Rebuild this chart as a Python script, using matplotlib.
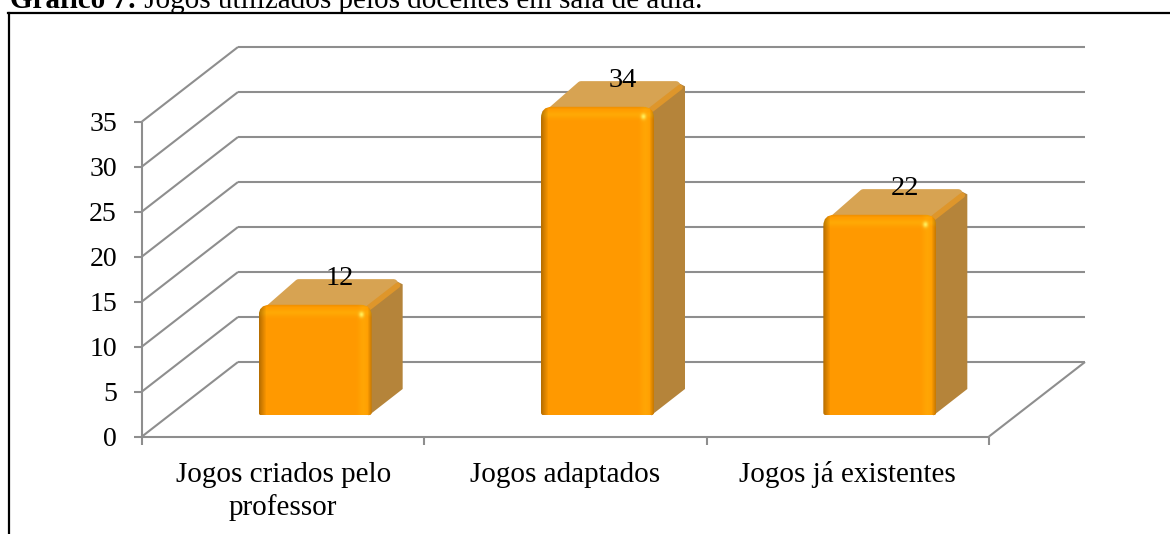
#!/usr/bin/env python3
"""Bar chart with a fake 3D look: games used by teachers in the classroom."""

import numpy as np
import matplotlib
matplotlib.use("Agg")
import matplotlib.pyplot as plt
from matplotlib.lines import Line2D
from matplotlib.patches import PathPatch, Polygon
from matplotlib.path import Path

categories = ["Jogos criados pelo\nprofessor", "Jogos adaptados", "Jogos já existentes"]
values = [12, 34, 22]
y_ticks = [0, 5, 10, 15, 20, 25, 30, 35]
title_bold = "Gráfico 7:"
title_rest = " Jogos utilizados pelos docentes em sala de aula."

W, H = 1170, 534
PX_X = 282.33      # pixels per category
PX_Y = 9.0         # pixels per value unit
X0, Y0 = 142, 436.5  # pixel position of the origin
DEPTH_X = 96 / PX_X
DEPTH_Y = 74.5 / PX_Y
GRID = "#8e8e8e"

plt.rcParams["font.family"] = ["Liberation Serif", "DejaVu Serif"]


def bar_image(w, h):
    """Shaded front face: dark left edge, light right strip, bright top strip."""
    base = np.array([1.0, 0.60, 0.0])
    xs = np.arange(w)[None, :]
    ys = np.arange(h)[:, None]
    light = np.array([1.0, 0.66, 0.02])

    band_r = np.exp(-((xs - (w - 9)) / 5.0) ** 2)
    band_t = np.exp(-((ys - 8) / 4.0) ** 2)
    amount = np.maximum(band_r * 0.8, band_t)[:, :, None]
    img = base * (1 - amount) + light * amount

    shade = 0.72 + 0.28 * np.clip(xs / 7.0, 0, 1)
    shade = shade * (0.80 + 0.20 * np.clip((w - 1 - xs) / 4.0, 0, 1))
    shade = shade * (0.93 + 0.07 * np.clip(ys / 3.0, 0, 1))
    img = img * shade[:, :, None]

    # small glint in the top right corner
    glint = np.exp(-(((xs - (w - 11)) / 2.6) ** 2 + ((ys - 10) / 3.0) ** 2))[:, :, None]
    img = img * (1 - glint) + np.array([1.0, 0.93, 0.35]) * glint
    return np.clip(img, 0, 1)


def round_rect(x0, x1, y0, y1, rt, rb):
    """Rectangle path with rounded corners, radii given in pixels."""
    rtx, rty = rt / PX_X, rt / PX_Y
    rbx, rby = rb / PX_X, rb / PX_Y
    verts = [(x0 + rbx, y0), (x1 - rbx, y0), (x1, y0), (x1, y0 + rby),
             (x1, y1 - rty), (x1, y1), (x1 - rtx, y1), (x0 + rtx, y1),
             (x0, y1), (x0, y1 - rty), (x0, y0 + rby), (x0, y0), (x0 + rbx, y0)]
    codes = [Path.MOVETO, Path.LINETO, Path.CURVE3, Path.CURVE3,
             Path.LINETO, Path.CURVE3, Path.CURVE3, Path.LINETO,
             Path.CURVE3, Path.CURVE3, Path.LINETO, Path.CURVE3, Path.CURVE3]
    return Path(verts, codes)


def main():
    fig = plt.figure(figsize=(W / 100, H / 100), dpi=100)
    ax = fig.add_axes([0, 0, 1, 1])
    ax.axis("off")

    n = len(categories)
    top = y_ticks[-1]
    line = dict(color=GRID, lw=1.5, solid_capstyle="butt", zorder=1)

    # back wall and side wall grid
    for t in y_ticks:
        ax.plot([DEPTH_X, n + DEPTH_X], [t + DEPTH_Y] * 2, **line)
        ax.plot([0, DEPTH_X], [t, t + DEPTH_Y], **line)
        ax.plot([-8 / PX_X, 0], [t, t], **line)
        ax.text(-25 / PX_X, t, str(t), ha="right", va="center_baseline", fontsize=20)

    # floor and axes
    ax.plot([0, 0], [0, top], **line)
    ax.plot([0, n], [0, 0], **line)
    ax.plot([n, n + DEPTH_X], [0, DEPTH_Y], **line)
    for i in range(n + 1):
        ax.plot([i, i], [-8 / PX_Y, 0], **line)

    # bars
    bar_w = 113 / PX_X
    front_dx, front_dy = 32 / PX_X, 21 / PX_Y
    side_dx, side_dy = 31 / PX_X, 26.5 / PX_Y
    for i, (cat, v) in enumerate(zip(categories, values)):
        x0 = i + 0.5 + front_dx - bar_w / 2
        x1 = x0 + bar_w
        y0 = front_dy
        y1 = y0 + v + 0.3

        side = Polygon([(x1 - 3 / PX_X, y0), (x1 + side_dx, y0 + side_dy),
                        (x1 + side_dx, y1 + side_dy - 6 / PX_Y),
                        (x1 + side_dx - 6 / PX_X, y1 + side_dy - 3 / PX_Y),
                        (x1 - 4 / PX_X, y1 - 1 / PX_Y)],
                       closed=True, fc="#b5843a", ec="none", zorder=3)
        ax.add_patch(side)

        roof = Polygon([(x0 + 12 / PX_X, y1 - 3 / PX_Y), (x1 - 6 / PX_X, y1 - 3 / PX_Y),
                        (x1 + side_dx - 9 / PX_X, y1 + side_dy - 5 / PX_Y),
                        (x0 + side_dx + 9 / PX_X, y1 + side_dy - 5 / PX_Y)],
                       closed=True, fc="#d7a352", ec="#d7a352", lw=6, joinstyle="round", zorder=3.2)
        ax.add_patch(roof)
        # orange bevel between roof and side
        ax.plot([x1 - 3 / PX_X, x1 + side_dx - 5 / PX_X],
                [y1 - 3 / PX_Y, y1 + side_dy - 7 / PX_Y],
                color="#de962b", lw=4, solid_capstyle="round", zorder=3.5)

        im = ax.imshow(bar_image(113, int(round(v * PX_Y + 3))), extent=(x0, x1, y0, y1),
                       aspect="auto", interpolation="bilinear", zorder=4)
        clip = PathPatch(round_rect(x0, x1, y0, y1, 11, 3), transform=ax.transData)
        im.set_clip_path(clip)

        ax.text(x0 + bar_w / 2 + 25 / PX_X, y1 + 29 / PX_Y, str(v),
                ha="center", va="center_baseline", fontsize=20.5, zorder=6)

        for k, part in enumerate(cat.split("\n")):
            ax.text(i + 0.5, (-35 - 33.5 * k) / PX_Y, part, ha="center",
                    va="center_baseline", fontsize=21)

    ax.set_xlim(-X0 / PX_X, (W - X0) / PX_X)
    ax.set_ylim((Y0 - H) / PX_Y, Y0 / PX_Y)

    # outer frame of the page, only left and top show
    for xs, ys in [((9, 9), (13, 534)), ((8, 1170), (13, 13))]:
        fig.add_artist(Line2D([x / W for x in xs], [1 - y / H for y in ys], color="black", lw=1.6))

    # caption, cut off by the top of the image like the source scan
    t1 = fig.text(10 / W, 1 - 8.5 / H, title_bold, fontweight="bold", fontsize=21, va="baseline")
    fig.canvas.draw()
    end = t1.get_window_extent().x1
    fig.text(end / W, 1 - 8.5 / H, title_rest, fontsize=21, va="baseline")

    fig.savefig("out.png", dpi=100)


if __name__ == "__main__":
    main()
